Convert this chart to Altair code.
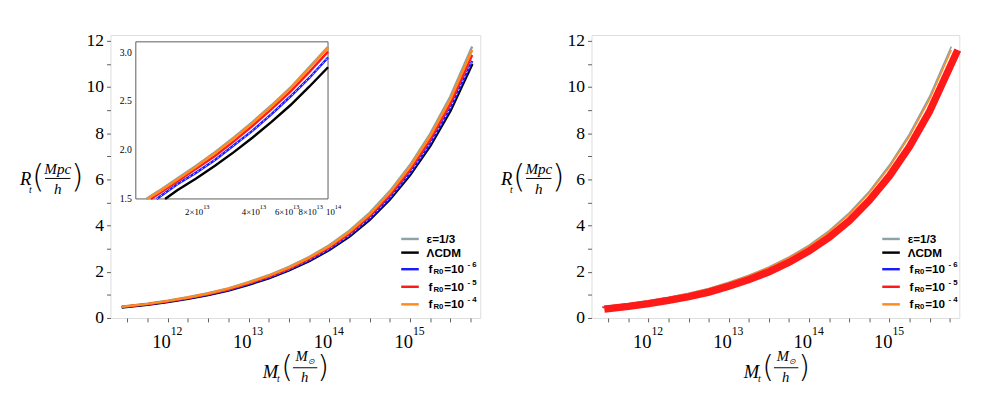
import altair as alt
import pandas as pd

# ---------------- data (x = log10 M_t [M_sun/h], y = R_t [Mpc/h]) ----------------
logM = [11.43, 11.75, 12.0, 12.25, 12.5, 12.75, 13.0, 13.25, 13.5, 13.75,
        14.0, 14.25, 14.5, 14.75, 15.0, 15.25, 15.5, 15.77]
R_eps = [0.49, 0.62, 0.75, 0.90, 1.07, 1.28, 1.55, 1.85, 2.21, 2.64,
         3.15, 3.78, 4.55, 5.49, 6.62, 7.97, 9.59, 11.75]
R_lcdm = [0.46, 0.58, 0.70, 0.84, 1.00, 1.20, 1.45, 1.73, 2.07, 2.47,
          2.95, 3.54, 4.26, 5.14, 6.20, 7.46, 8.98, 11.00]
R_f6 = [0.47, 0.59, 0.71, 0.85, 1.01, 1.21, 1.47, 1.75, 2.09, 2.50,
        2.99, 3.58, 4.31, 5.20, 6.27, 7.55, 9.09, 11.13]
R_f5 = [0.48, 0.60, 0.72, 0.87, 1.04, 1.24, 1.50, 1.79, 2.14, 2.56,
        3.05, 3.66, 4.41, 5.32, 6.42, 7.72, 9.29, 11.39]
R_f4 = [0.49, 0.61, 0.74, 0.89, 1.06, 1.27, 1.53, 1.83, 2.18, 2.61,
        3.11, 3.73, 4.49, 5.42, 6.54, 7.87, 9.47, 11.60]

# right panel: thick f_R0 = 1e-5 curve
logM_thick = [11.45, 11.75, 12.0, 12.25, 12.5, 12.75, 13.0, 13.25, 13.5, 13.75,
              14.0, 14.25, 14.5, 14.75, 15.0, 15.25, 15.5, 15.85]
R_f5_thick = [0.38, 0.50, 0.62, 0.76, 0.92, 1.12, 1.37, 1.66, 2.00, 2.41,
              2.90, 3.49, 4.21, 5.09, 6.15, 7.42, 8.95, 11.60]

# inset (zoom 1e13 - 1e14)
in_m_eps = [13.035, 13.1, 13.2, 13.3, 13.4, 13.5, 13.6, 13.7, 13.8, 13.9, 14.0]
in_r_eps = [1.50, 1.58, 1.71, 1.84, 1.98, 2.13, 2.29, 2.46, 2.64, 2.85, 3.06]
in_m_lcdm = [13.135, 13.2, 13.3, 13.4, 13.5, 13.6, 13.7, 13.8, 13.9, 14.0]
in_r_lcdm = [1.50, 1.59, 1.71, 1.84, 1.98, 2.13, 2.29, 2.46, 2.65, 2.85]
in_m_f6 = [13.09, 13.2, 13.3, 13.4, 13.5, 13.6, 13.7, 13.8, 13.9, 14.0]
in_r_f6 = [1.50, 1.65, 1.77, 1.90, 2.05, 2.20, 2.37, 2.55, 2.74, 2.95]
in_m_f5 = [13.06, 13.1, 13.2, 13.3, 13.4, 13.5, 13.6, 13.7, 13.8, 13.9, 14.0]
in_r_f5 = [1.50, 1.55, 1.68, 1.81, 1.94, 2.09, 2.25, 2.42, 2.60, 2.80, 3.01]
in_m_f4 = [13.04, 13.1, 13.2, 13.3, 13.4, 13.5, 13.6, 13.7, 13.8, 13.9, 14.0]
in_r_f4 = [1.50, 1.57, 1.70, 1.83, 1.97, 2.12, 2.28, 2.45, 2.63, 2.84, 3.05]

x_major = [12, 13, 14, 15]
x_major_exp = ["12", "13", "14", "15"]
x_minor = [11.5, 11.75, 12.0, 12.25, 12.5, 12.75, 13.0, 13.25, 13.5, 13.75,
           14.0, 14.25, 14.5, 14.75, 15.0, 15.25, 15.5, 15.75]
y_ticks = [0, 1, 2, 3, 4, 5, 6, 7, 8, 9, 10, 11, 12]

in_y_ticks = [1.5, 2.0, 2.5, 3.0]
in_y_labels = ["1.5", "2.0", "2.5", "3.0"]
in_x_ticks = [13.301, 13.602, 13.778, 13.903, 14.0]
in_x_base = ["2×10", "4×10", "6×10", "8×10", "10"]
in_x_exp = ["13", "13", "13", "13", "14"]

C_EPS, C_LCDM, C_F6, C_F5, C_F4 = "#8ba3a9", "#000000", "#1a1aff", "#ff1a1a", "#ff8a1e"

# ---------------- layout ----------------
W, H = 379, 290
SERIF = "Liberation Serif"
SANS = "Liberation Sans"
THIN = "DejaVu Sans"
FRAME = "#5a5a5a"

XS = alt.Scale(domain=[11.29, 15.87], nice=False, zero=False)
YS = alt.Scale(domain=[0, 12.25], nice=False, zero=False)
XAX = alt.Axis(values=x_minor, labels=False, title=None, grid=False, domain=False,
               tickColor=FRAME, tickSize=4, tickWidth=1)
YAX = alt.Axis(values=y_ticks, labelExpr="datum.value % 2 == 0 ? datum.label : ''",
               labelFont=SERIF, labelFontSize=18, labelColor="black", title=None,
               grid=False, domain=False, tickColor=FRAME, tickSize=4, labelPadding=3)

XI = alt.Scale(domain=[12.98, 14.0], range=[26, 223], nice=False, zero=False)
YI = alt.Scale(domain=[1.5, 3.11], range=[168, 7], nice=False, zero=False)

DUMMY = pd.DataFrame({"a": [0]})


def line(xs, ys, color, width, xscale=XS, yscale=YS, xaxis=XAX, yaxis=YAX, dash=None):
    df = pd.DataFrame({"m": xs, "r": ys})
    kw = dict(color=color, strokeWidth=width, clip=False)
    if dash is not None:
        kw["strokeDash"] = dash
    return alt.Chart(df).mark_line(**kw).encode(
        x=alt.X("m:Q", scale=xscale, axis=xaxis),
        y=alt.Y("r:Q", scale=yscale, axis=yaxis),
    )


def txt(s, x, y, size, font=SERIF, style="normal", weight="normal", align="center", base="middle"):
    return alt.Chart(DUMMY).mark_text(text=s, font=font, fontSize=size, fontStyle=style,
                                      fontWeight=weight, align=align, baseline=base,
                                      color="black").encode(x=alt.value(x), y=alt.value(y))


def hrule(x1, x2, y, color="black", width=1.0):
    return alt.Chart(DUMMY).mark_rule(color=color, strokeWidth=width).encode(
        x=alt.value(x1), x2=alt.value(x2), y=alt.value(y))


def decorations(lw_legend):
    L = []
    # x tick labels 10^n
    tdf = pd.DataFrame({"m": x_major, "e": x_major_exp})
    L.append(alt.Chart(tdf).mark_text(text="10", font=SERIF, fontSize=19, align="right",
                                      baseline="middle", dx=3, color="black").encode(
        x=alt.X("m:Q", scale=XS, axis=XAX), y=alt.value(H + 25)))
    L.append(alt.Chart(tdf).mark_text(font=SERIF, fontSize=12, align="left",
                                      baseline="middle", dx=3, color="black").encode(
        x=alt.X("m:Q", scale=XS, axis=XAX), y=alt.value(H + 13), text="e:N"))
    # y title  R_t (Mpc/h)
    L += [txt("R", -87, 148, 19, style="italic"),
          txt("t", -82, 159, 10, style="italic"),
          txt("(", -74, 146, 33, font=THIN, weight=200),
          txt("Mpc", -54, 137, 15.5, style="italic"),
          hrule(-67, -41, 147),
          txt("h", -54, 158, 15.5, style="italic"),
          txt(")", -34, 146, 33, font=THIN, weight=200)]
    # x title  M_t (M_sun/h)
    L += [txt("M", 164, 345, 19, style="italic"),
          txt("t", 172, 353, 10, style="italic"),
          txt("(", 181, 341, 31, font=THIN, weight=200),
          txt("M", 196, 329, 15, style="italic"),
          txt("⊙", 206, 335, 8, style="italic"),
          hrule(187, 212, 341),
          txt("h", 199, 351, 15, style="italic"),
          txt(")", 218, 341, 31, font=THIN, weight=200)]
    # legend
    rows = [209, 223, 240, 258, 276]
    cols = [C_EPS, C_LCDM, C_F6, C_F5, C_F4]
    for yy, cc in zip(rows, cols):
        L.append(hrule(298, 316, yy, color=cc, width=lw_legend))
    L.append(txt("ε=1/3", 324, rows[0], 12, font=SANS, weight="bold", align="left"))
    L.append(txt("ΛCDM", 324, rows[1], 12, font=SANS, weight="bold", align="left"))
    for yy, ex in zip(rows[2:], ["- 6", "- 5", "- 4"]):
        L += [txt("f", 326, yy, 12, font=SANS, weight="bold", align="left"),
              txt("R0", 331, yy + 3, 8, font=SANS, weight="bold", align="left"),
              txt("=10", 342, yy, 12, font=SANS, weight="bold", align="left"),
              txt(ex, 366, yy - 4, 8, font=SANS, weight="bold", align="left")]
    return L


def inset():
    L = [alt.Chart(DUMMY).mark_rect(fill="white", stroke=FRAME, strokeWidth=1).encode(
        x=alt.value(26), x2=alt.value(223), y=alt.value(7), y2=alt.value(168))]
    kw = dict(xscale=XI, yscale=YI, xaxis=None, yaxis=None)
    L += [line(in_m_eps, in_r_eps, C_EPS, 2.5, **kw),
          line(in_m_lcdm, in_r_lcdm, C_LCDM, 2.5, **kw),
          line(in_m_f6, in_r_f6, C_F6, 2.5, **kw),
          line(in_m_f6, in_r_f6, "white", 0.8, dash=[2, 3], **kw),
          line(in_m_f5, in_r_f5, C_F5, 2.5, **kw),
          line(in_m_f4, in_r_f4, C_F4, 2.5, **kw)]
    ydf = pd.DataFrame({"v": in_y_ticks, "s": in_y_labels})
    L.append(alt.Chart(ydf).mark_text(font=SERIF, fontSize=10, align="right", baseline="middle",
                                      color="black").encode(
        x=alt.value(22), y=alt.Y("v:Q", scale=YI, axis=None), text="s:N"))
    xdf = pd.DataFrame({"m": in_x_ticks, "b": in_x_base, "e": in_x_exp})
    L.append(alt.Chart(xdf).mark_text(font=SERIF, fontSize=9, align="right", baseline="middle",
                                      dx=7, color="black").encode(
        x=alt.X("m:Q", scale=XI, axis=None), y=alt.value(181), text="b:N"))
    L.append(alt.Chart(xdf).mark_text(font=SERIF, fontSize=6.5, align="left", baseline="middle",
                                      dx=7, color="black").encode(
        x=alt.X("m:Q", scale=XI, axis=None), y=alt.value(176), text="e:N"))
    return alt.layer(*L)


# ---------------- left panel ----------------
left_main = alt.layer(
    line(logM, R_eps, C_EPS, 2.5),
    line(logM, R_lcdm, C_LCDM, 3),
    line(logM, R_f6, C_F6, 2.5),
    line(logM, R_f6, "white", 0.8, dash=[2, 3]),
    line(logM, R_f5, C_F5, 2.5),
    line(logM, R_f4, C_F4, 2.5),
    *decorations(2.5),
)
left = alt.layer(left_main, inset()).resolve_scale(x="independent", y="independent").properties(
    width=W, height=H)

# ---------------- right panel ----------------
right = alt.layer(
    line(logM, R_eps, C_EPS, 1.6),
    line(logM, R_lcdm, C_LCDM, 1.6),
    line(logM, R_f6, C_F6, 1.6),
    line(logM, R_f4, C_F4, 1.6),
    line(logM_thick, R_f5_thick, C_F5, 7.5),
    *decorations(2.5),
).properties(width=W - 2, height=H)

chart = alt.hconcat(left, right, spacing=114, bounds="flush").properties(
    padding={"left": 11, "top": 19, "right": 0, "bottom": -5}
).configure_view(stroke=FRAME, strokeWidth=1.2).configure(background="white")

chart.save("out.html", embed_options={"renderer": "svg", "actions": False})
